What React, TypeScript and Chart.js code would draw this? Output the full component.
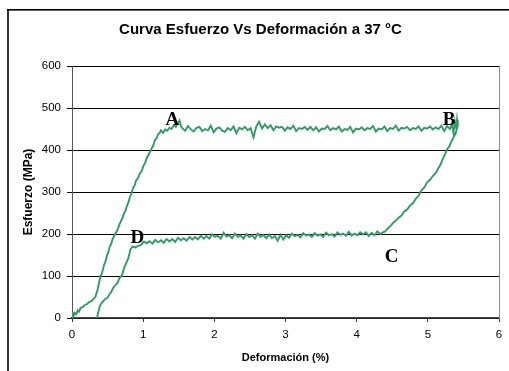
import React, { useEffect, useRef } from "react";
import { Chart, registerables } from "chart.js";

Chart.register(...registerables);

// Loading branch (0 -> A)
const loadingCurve: [number, number][] = [
  [0, 0], [0.01, 14], [0.02, 4], [0.04, 12], [0.06, 9], [0.08, 18], [0.1, 15], [0.12, 24],
  [0.15, 26], [0.18, 31], [0.21, 33], [0.24, 38], [0.27, 40], [0.3, 45], [0.33, 51], [0.36, 68],
  [0.38, 84], [0.4, 100], [0.42, 106], [0.45, 126], [0.47, 134], [0.49, 148], [0.51, 156],
  [0.53, 170], [0.55, 176], [0.57, 188], [0.59, 194], [0.61, 202], [0.63, 206], [0.65, 215],
  [0.67, 224], [0.69, 232], [0.71, 238], [0.73, 249], [0.75, 255], [0.77, 266], [0.79, 274],
  [0.81, 286], [0.83, 294], [0.86, 310], [0.88, 316], [0.9, 327], [0.93, 334], [0.95, 343],
  [0.98, 350], [1.0, 361], [1.03, 370], [1.05, 381], [1.08, 390], [1.11, 401], [1.14, 410],
  [1.17, 425], [1.19, 428], [1.21, 438], [1.23, 440], [1.25, 447], [1.28, 441], [1.31, 449],
  [1.34, 446], [1.37, 453], [1.4, 450], [1.43, 459], [1.46, 455], [1.49, 464], [1.51, 470],
  [1.53, 457],
];

// Upper plateau (A -> B)
const upperPlateau: [number, number][] = [
  [1.55, 452], [1.59, 446], [1.63, 457], [1.67, 449], [1.71, 444], [1.75, 453], [1.79, 455],
  [1.83, 445], [1.87, 450], [1.91, 447], [1.95, 458], [1.99, 442], [2.03, 451], [2.07, 454],
  [2.11, 446], [2.15, 443], [2.19, 452], [2.23, 447], [2.27, 456], [2.31, 440], [2.35, 453],
  [2.39, 449], [2.43, 455], [2.47, 447], [2.51, 452], [2.55, 430], [2.59, 456], [2.63, 467],
  [2.67, 451], [2.71, 461], [2.75, 452], [2.79, 459], [2.83, 447], [2.87, 456], [2.91, 453],
  [2.95, 455], [2.99, 446], [3.03, 454], [3.07, 450], [3.11, 458], [3.15, 445], [3.19, 452],
  [3.23, 450], [3.27, 455], [3.31, 448], [3.35, 455], [3.39, 447], [3.43, 454], [3.47, 444],
  [3.51, 451], [3.55, 450], [3.59, 457], [3.63, 447], [3.67, 452], [3.71, 449], [3.75, 456],
  [3.79, 444], [3.83, 450], [3.87, 448], [3.91, 455], [3.95, 442], [3.99, 451], [4.03, 449],
  [4.07, 454], [4.11, 447], [4.15, 452], [4.19, 450], [4.23, 457], [4.27, 444], [4.31, 451],
  [4.35, 449], [4.39, 456], [4.43, 445], [4.47, 452], [4.51, 450], [4.55, 458], [4.59, 446],
  [4.63, 453], [4.67, 451], [4.71, 455], [4.75, 447], [4.79, 452], [4.83, 450], [4.87, 456],
  [4.91, 446], [4.95, 453], [4.99, 451], [5.03, 456], [5.07, 449], [5.11, 454], [5.15, 450],
  [5.19, 458], [5.23, 445], [5.27, 457], [5.31, 450], [5.34, 462], [5.36, 440], [5.38, 468],
  [5.4, 452], [5.41, 472], [5.42, 458],
];

// Unloading branch (B -> C)
const unloadingCurve: [number, number][] = [
  [5.4, 445], [5.38, 436], [5.36, 430], [5.33, 420], [5.3, 408], [5.27, 402], [5.24, 389],
  [5.21, 379], [5.18, 366], [5.15, 357], [5.11, 345], [5.07, 338], [5.03, 329], [4.99, 323],
  [4.95, 311], [4.91, 304], [4.87, 291], [4.83, 284], [4.79, 273], [4.75, 268], [4.71, 258],
  [4.67, 254], [4.63, 244], [4.59, 239], [4.55, 232], [4.51, 226], [4.47, 218], [4.43, 212],
  [4.4, 206], [4.37, 204],
];

// Lower plateau (C -> D)
const lowerPlateau: [number, number][] = [
  [4.33, 200], [4.29, 206], [4.25, 197], [4.21, 203], [4.17, 195], [4.13, 204], [4.09, 199],
  [4.05, 204], [4.01, 197], [3.97, 201], [3.93, 196], [3.89, 205], [3.85, 196], [3.81, 201],
  [3.77, 198], [3.73, 204], [3.69, 194], [3.65, 200], [3.61, 197], [3.57, 203], [3.53, 193],
  [3.49, 199], [3.45, 196], [3.41, 202], [3.37, 193], [3.33, 199], [3.29, 196], [3.25, 202],
  [3.21, 192], [3.17, 198], [3.13, 195], [3.09, 201], [3.05, 191], [3.01, 197], [2.97, 187],
  [2.93, 198], [2.89, 184], [2.85, 195], [2.81, 190], [2.77, 199], [2.73, 190], [2.69, 198],
  [2.65, 193], [2.61, 201], [2.57, 189], [2.53, 197], [2.49, 193], [2.45, 200], [2.41, 189],
  [2.37, 196], [2.33, 193], [2.29, 201], [2.25, 190], [2.21, 197], [2.17, 194], [2.13, 203],
  [2.09, 189], [2.05, 196], [2.01, 193], [1.97, 199], [1.93, 189], [1.89, 195], [1.85, 189],
  [1.81, 196], [1.77, 187], [1.73, 193], [1.69, 187], [1.65, 193], [1.61, 184], [1.57, 190],
  [1.53, 185], [1.49, 191], [1.45, 181], [1.41, 188], [1.37, 182], [1.33, 188], [1.29, 179],
  [1.25, 185], [1.21, 180], [1.17, 186], [1.13, 177], [1.09, 183], [1.05, 178], [1.01, 182],
];

// Return branch (D -> residual strain)
const returnCurve: [number, number][] = [
  [0.97, 174], [0.93, 172], [0.89, 168], [0.85, 170], [0.82, 163], [0.81, 155], [0.79, 142],
  [0.76, 130], [0.73, 118], [0.7, 100], [0.67, 96], [0.64, 84], [0.61, 78], [0.58, 72],
  [0.55, 62], [0.52, 55], [0.5, 48], [0.47, 46], [0.44, 40], [0.41, 34], [0.39, 28],
  [0.37, 14], [0.35, 0],
];

const pointLabels = ["A", "B", "C", "D"];
const pointLabelX = [1.41, 5.3, 4.49, 0.92];
const pointLabelY = [476, 475, 148, 195];

const titleText = "Curva Esfuerzo Vs Deformación a 37 °C";
const xTitle = "Deformación (%)";
const yTitle = "Esfuerzo (MPa)";
const xMin = 0, xMax = 6, xStep = 1;
const yMin = 0, yMax = 600, yStep = 100;

const SANS = '"Liberation Sans", Arial, sans-serif';

const decorPlugin = {
  id: "decor",
  afterDatasetsDraw(chart: any) {
    const { ctx, chartArea, scales } = chart;
    const xs = scales.x, ys = scales.y;
    ctx.save();
    // right edge of plot area
    ctx.strokeStyle = "#8a8a8a";
    ctx.lineWidth = 1;
    ctx.beginPath();
    ctx.moveTo(Math.round(chartArea.right) + 0.5, chartArea.top);
    ctx.lineTo(Math.round(chartArea.right) + 0.5, chartArea.bottom);
    ctx.stroke();
    // point letters
    ctx.font = 'bold 19px "Liberation Serif", "Times New Roman", serif';
    ctx.fillStyle = "#000";
    ctx.textAlign = "center";
    ctx.textBaseline = "alphabetic";
    pointLabels.forEach((t, i) => {
      ctx.fillText(t, xs.getPixelForValue(pointLabelX[i]), ys.getPixelForValue(pointLabelY[i]) + 6.5);
    });
    // outer frame (left & top)
    ctx.fillStyle = "#000";
    ctx.fillRect(7.2, 9, 1.6, chart.height - 9);
    ctx.fillRect(7.2, 9, chart.width - 7, 1.6);
    ctx.restore();
  },
};

export default function App() {
  const ref = useRef<HTMLCanvasElement | null>(null);
  useEffect(() => {
    if (!ref.current) return;
    const data = [...loadingCurve, ...upperPlateau, ...unloadingCurve, ...lowerPlateau, ...returnCurve].map(
      ([x, y]) => ({ x, y })
    );
    const chart = new Chart(ref.current, {
      type: "scatter",
      data: {
        datasets: [
          {
            data,
            showLine: true,
            borderColor: "#339966",
            backgroundColor: "#339966",
            borderWidth: 1.9,
            pointRadius: 0,
            tension: 0,
          },
        ],
      },
      options: {
        responsive: false,
        animation: false,
        devicePixelRatio: 1,
        layout: { padding: { left: 22, right: 10, top: 0, bottom: 0 } },
        plugins: {
          legend: { display: false },
          tooltip: { enabled: false },
          title: {
            display: true,
            text: titleText,
            color: "#000",
            font: { family: SANS, size: 15, weight: "bold" },
            padding: { top: 21, bottom: 27 },
          },
        },
        scales: {
          x: {
            type: "linear",
            min: xMin,
            max: xMax,
            ticks: { stepSize: xStep, color: "#000", font: { family: SANS, size: 11.5 }, padding: 6 },
            grid: { drawOnChartArea: false, drawTicks: true, tickLength: 4, tickColor: "#333" },
            border: { color: "#444", width: 1.5 },
            title: {
              display: true,
              text: xTitle,
              color: "#000",
              font: { family: SANS, size: 11, weight: "bold" },
              padding: { top: 0, bottom: 6 },
            },
            afterFit: (s: any) => {
              s.height = 53;
            },
          },
          y: {
            type: "linear",
            min: yMin,
            max: yMax,
            ticks: { stepSize: yStep, color: "#000", font: { family: SANS, size: 11.5 }, padding: 6 },
            grid: { color: "#000", lineWidth: 1, drawTicks: true, tickLength: 5, tickColor: "#000" },
            border: { color: "#555", width: 1 },
            title: {
              display: true,
              text: yTitle,
              color: "#000",
              font: { family: SANS, size: 12, weight: "bold" },
              padding: { top: -1, bottom: 0 },
            },
            afterFit: (s: any) => {
              s.width = 50;
            },
          },
        },
      },
      plugins: [decorPlugin],
    } as any);
    return () => chart.destroy();
  }, []);
  return (
    <div style={{ position: "fixed", left: 0, top: 0, width: 509, height: 371, background: "#fff" }}>
      <canvas ref={ref} width={509} height={371} style={{ display: "block" }} />
    </div>
  );
}
